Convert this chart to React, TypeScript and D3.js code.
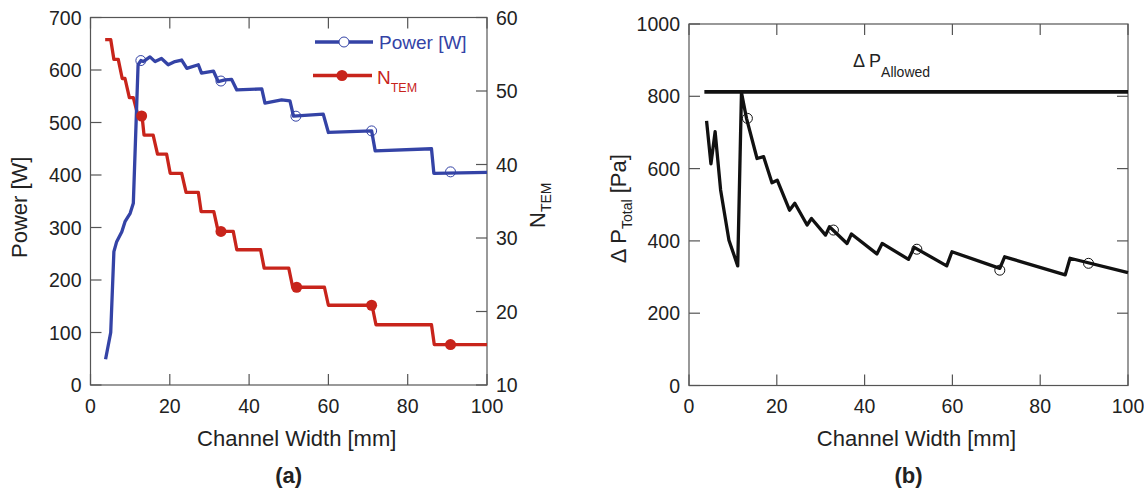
import React from "react";
import * as d3 from "d3";

// ---- Data ----
const powerX = [3.8, 5.1, 5.9, 6.6, 7.9, 8.7, 10.0, 10.8, 12.0, 12.7, 13.3, 15.0, 16.3, 17.9, 19.6, 21.3, 23.0, 24.3, 27.2, 28.0, 31.0, 32.2, 33.9, 35.6, 36.9, 43.2, 44.0, 48.2, 50.3, 51.2, 58.7, 60.0, 70.9, 71.8, 86.0, 86.6, 100];
const powerW = [49, 100, 254, 273, 292, 311, 327, 346, 610, 618, 616, 625, 616, 622, 610, 616, 619, 603, 610, 594, 598, 578, 581, 582, 562, 564, 537, 543, 541, 512, 516, 481, 484, 446, 450, 403, 405];
const powerMarkX = [12.7, 32.9, 51.8, 70.9, 90.8];
const powerMarkW = [618, 579, 512, 484, 406];

const ntemX = [3.7, 5.1, 5.9, 7.0, 8.0, 8.7, 9.8, 10.8, 12.0, 13.0, 13.5, 15.8, 16.9, 19.2, 20.1, 23.0, 24.1, 27.2, 27.9, 31.1, 32.2, 36.0, 36.9, 42.9, 43.8, 50.0, 51.0, 59.0, 60.0, 71.0, 72.0, 86.0, 86.7, 100];
const ntemN = [57.0, 57.0, 54.3, 54.3, 51.7, 51.7, 49.1, 49.1, 46.6, 46.6, 44.0, 44.0, 41.4, 41.4, 38.8, 38.8, 36.2, 36.2, 33.6, 33.6, 30.9, 30.9, 28.4, 28.4, 25.9, 25.9, 23.3, 23.3, 20.85, 20.85, 18.2, 18.2, 15.5, 15.5];
const ntemMarkX = [12.9, 32.9, 52.0, 70.9, 90.8];
const ntemMarkN = [46.6, 30.9, 23.3, 20.85, 15.5];

const dpX = [4.0, 5.0, 5.95, 7.2, 9.1, 11.1, 11.95, 13.1, 15.5, 17.0, 18.9, 20.1, 22.9, 24.1, 26.9, 27.9, 31.1, 32.0, 36.0, 37.0, 42.8, 44.0, 50.0, 51.3, 58.7, 59.9, 70.8, 71.9, 85.7, 86.8, 100];
const dpPa = [732, 613, 702, 541, 402, 331, 810, 739, 628, 633, 561, 568, 485, 504, 444, 462, 416, 439, 393, 419, 364, 393, 349, 382, 331, 370, 324, 356, 306, 352, 312];
const dpMarkX = [13.3, 32.9, 51.9, 70.8, 91.0];
const dpMarkPa = [739, 430, 377, 319, 338];
const allowedX = [3.5, 100];
const allowedPa = 812;

const xTicks = [0, 20, 40, 60, 80, 100];
const powerTicks = [0, 100, 200, 300, 400, 500, 600, 700];
const ntemTicks = [10, 20, 30, 40, 50, 60];
const dpTicks = [0, 200, 400, 600, 800, 1000];

const BLUE = "#3443a6";
const RED = "#c8241b";
const AXIS = "#555";
const FONT = "'Liberation Sans', Arial, Helvetica, sans-serif";
const TICK_FS = 19.5;
const TITLE_FS = 22;
const TL = 11;

type P = [number, number];
const zip = (a: number[], b: number[]): P[] => a.map((v, i) => [v, b[i]]);

function Box({ x, y, yTicksL, yTicksR, yR }: any) {
  const [x0, x1] = x.range();
  const [y0, y1] = y.range(); // y0 bottom, y1 top
  return (
    <g stroke={AXIS} strokeWidth={1.2} fill="none">
      <rect x={x0} y={y1} width={x1 - x0} height={y0 - y1} />
      {xTicks.map((t) => (
        <g key={"xt" + t}>
          <line x1={x(t)} x2={x(t)} y1={y0} y2={y0 - TL} />
          <line x1={x(t)} x2={x(t)} y1={y1} y2={y1 + TL} />
        </g>
      ))}
      {yTicksL.map((t: number) => (
        <line key={"yl" + t} x1={x0} x2={x0 + TL} y1={y(t)} y2={y(t)} />
      ))}
      {(yTicksR || []).map((t: number) => (
        <line key={"yr" + t} x1={x1} x2={x1 - TL} y1={yR(t)} y2={yR(t)} />
      ))}
    </g>
  );
}

export default function App() {
  // Left chart scales
  const xa = d3.scaleLinear().domain([0, 100]).range([90.5, 487]);
  const ya = d3.scaleLinear().domain([0, 700]).range([385, 17.5]);
  const yn = d3.scaleLinear().domain([10, 60]).range([385, 17.5]);
  // Right chart scales
  const xb = d3.scaleLinear().domain([0, 100]).range([689, 1128]);
  const yb = d3.scaleLinear().domain([0, 1000]).range([385.5, 24]);

  const lineA = d3.line<P>().x((d) => xa(d[0])).y((d) => ya(d[1]));
  const lineN = d3.line<P>().x((d) => xa(d[0])).y((d) => yn(d[1]));
  const lineB = d3.line<P>().x((d) => xb(d[0])).y((d) => yb(d[1]));

  const tickY = 413;
  const titleY = 446;
  const panelY = 483;

  return (
    <svg
      width={1144}
      height={495}
      style={{ position: "absolute", left: 0, top: 0, background: "#fff" }}
      fontFamily={FONT}
    >
      <rect width={1144} height={495} fill="#fff" />
      {/* ---------- Panel (a) ---------- */}
      <Box x={xa} y={ya} yTicksL={powerTicks} yTicksR={ntemTicks} yR={yn} />
      <path d={lineN(zip(ntemX, ntemN)) || ""} fill="none" stroke={RED} strokeWidth={3.3} strokeLinejoin="round" />
      <path d={lineA(zip(powerX, powerW)) || ""} fill="none" stroke={BLUE} strokeWidth={3.3} strokeLinejoin="round" />
      {ntemMarkX.map((v, i) => (
        <circle key={"nm" + i} cx={xa(v)} cy={yn(ntemMarkN[i])} r={5.5} fill={RED} />
      ))}
      {powerMarkX.map((v, i) => (
        <circle key={"pm" + i} cx={xa(v)} cy={ya(powerMarkW[i])} r={5} fill="none" stroke={BLUE} strokeWidth={1} />
      ))}
      {/* tick labels */}
      <g fontSize={TICK_FS} fill="#222">
        {xTicks.map((t) => (
          <text key={"axl" + t} x={xa(t)} y={tickY} textAnchor="middle">{t}</text>
        ))}
        {powerTicks.map((t) => (
          <text key={"ayl" + t} x={xa(0) - 9} y={ya(t) + 7} textAnchor="end">{t}</text>
        ))}
        {ntemTicks.map((t) => (
          <text key={"ayr" + t} x={xa(100) + 9} y={yn(t) + 7} textAnchor="start">{t}</text>
        ))}
        {xTicks.map((t) => (
          <text key={"bxl" + t} x={xb(t)} y={tickY} textAnchor="middle">{t}</text>
        ))}
        {dpTicks.map((t) => (
          <text key={"byl" + t} x={xb(0) - 9} y={yb(t) + 7} textAnchor="end">{t}</text>
        ))}
      </g>
      {/* titles */}
      <g fontSize={TITLE_FS} fill="#222">
        <text x={(xa(0) + xa(100)) / 2 + 8} y={titleY} textAnchor="middle">Channel Width [mm]</text>
        <text x={(xb(0) + xb(100)) / 2 + 8} y={titleY} textAnchor="middle">Channel Width [mm]</text>
        <text transform={`translate(27,${(ya(0) + ya(700)) / 2 + 6}) rotate(-90)`} textAnchor="middle">Power [W]</text>
        <text transform={`translate(545,${(yn(10) + yn(60)) / 2 + 4}) rotate(-90)`} textAnchor="middle">
          N<tspan fontSize={14} dy={6}>TEM</tspan>
        </text>
        <text transform={`translate(626,${(yb(0) + yb(1000)) / 2 + 4}) rotate(-90)`} textAnchor="middle">
          {"Δ P"}<tspan fontSize={14} dy={6}>Total</tspan><tspan dy={-6}>{" [Pa]"}</tspan>
        </text>
      </g>
      <text x={(xa(0) + xa(100)) / 2} y={panelY} textAnchor="middle" fontWeight="bold" fontSize={22} fill="#222">(a)</text>
      <text x={(xb(0) + xb(100)) / 2} y={panelY} textAnchor="middle" fontWeight="bold" fontSize={22} fill="#222">(b)</text>

      {/* legend (a) */}
      <g>
        <line x1={315} x2={373} y1={42} y2={42} stroke={BLUE} strokeWidth={3.3} />
        <circle cx={344} cy={42} r={5} fill="#fff" stroke={BLUE} strokeWidth={1} />
        <text x={379} y={49} fontSize={19} fill={BLUE}>Power [W]</text>
        <line x1={313} x2={372} y1={75.5} y2={75.5} stroke={RED} strokeWidth={3.3} />
        <circle cx={342} cy={75.5} r={5.5} fill={RED} />
        <text x={377} y={84} fontSize={19} fill={RED}>
          N<tspan fontSize={12.5} dy={8}>TEM</tspan>
        </text>
      </g>

      {/* ---------- Panel (b) ---------- */}
      <Box x={xb} y={yb} yTicksL={dpTicks} yTicksR={dpTicks.filter((t) => t > 0 && t < 1000)} yR={yb} />
      <line x1={xb(allowedX[0])} x2={xb(allowedX[1])} y1={yb(allowedPa)} y2={yb(allowedPa)} stroke="#111" strokeWidth={3.8} />
      <path d={lineB(zip(dpX, dpPa)) || ""} fill="none" stroke="#111" strokeWidth={3.3} strokeLinejoin="round" />
      {dpMarkX.map((v, i) => (
        <circle key={"dm" + i} cx={xb(v)} cy={yb(dpMarkPa[i])} r={5} fill="none" stroke="#111" strokeWidth={1} />
      ))}
      <text x={853} y={67} fontSize={18} fill="#222">
        {"Δ P"}<tspan fontSize={14} dy={10}>Allowed</tspan>
      </text>
    </svg>
  );
}
